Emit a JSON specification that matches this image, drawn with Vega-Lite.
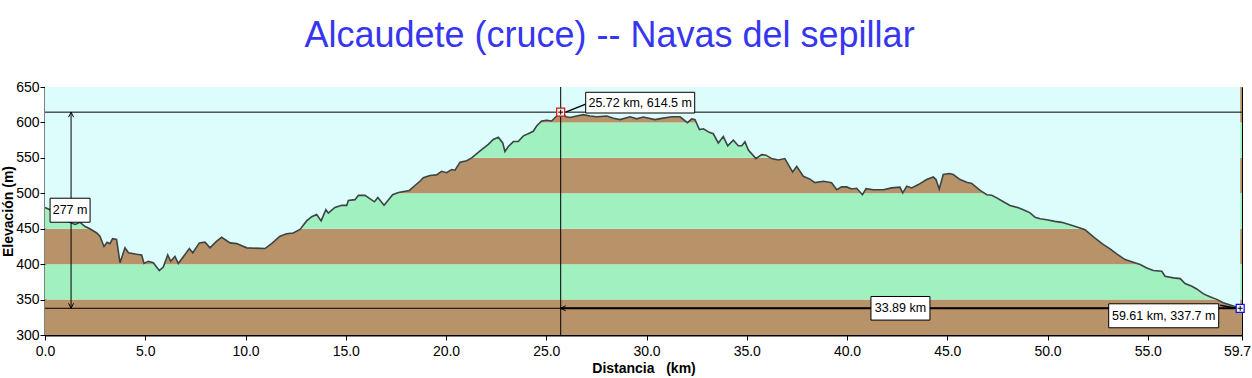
{
  "$schema": "https://vega.github.io/schema/vega-lite/v6.json",
  "width": 1197,
  "height": 248,
  "autosize": {"type": "none"},
  "padding": {"left": 45, "top": 87, "right": 10, "bottom": 43},
  "background": "white",
  "title": {
    "text": "Alcaudete (cruce) -- Navas del sepillar",
    "font": "Liberation Sans",
    "fontSize": 36,
    "fontWeight": "normal",
    "color": "#3636ee",
    "anchor": "middle",
    "frame": "group",
    "dx": -34,
    "baseline": "alphabetic",
    "offset": -3
  },
  "config": {
    "view": {"stroke": "black", "strokeWidth": 1},
    "axis": {
      "labelFont": "Liberation Sans",
      "labelFontSize": 14,
      "labelColor": "black",
      "titleFont": "Liberation Sans",
      "titleFontSize": 14,
      "titleFontWeight": "bold",
      "titleColor": "black",
      "tickColor": "black",
      "tickSize": 5,
      "domainColor": "black",
      "domainWidth": 2,
      "grid": false
    }
  },
  "datasets": {
    "profile": [
      {"km": 0, "elev": 480}, {"km": 0.3, "elev": 476}, {"km": 0.7, "elev": 468}, {"km": 1.0, "elev": 462},
      {"km": 1.33, "elev": 458}, {"km": 1.5, "elev": 456}, {"km": 1.75, "elev": 459}, {"km": 2.0, "elev": 453},
      {"km": 2.24, "elev": 450}, {"km": 2.58, "elev": 444}, {"km": 2.74, "elev": 439.5}, {"km": 2.94, "elev": 425},
      {"km": 3.1, "elev": 431}, {"km": 3.24, "elev": 429}, {"km": 3.37, "elev": 436}, {"km": 3.57, "elev": 435},
      {"km": 3.74, "elev": 402}, {"km": 3.99, "elev": 423}, {"km": 4.16, "elev": 416}, {"km": 4.57, "elev": 414},
      {"km": 4.82, "elev": 413}, {"km": 4.94, "elev": 401}, {"km": 5.15, "elev": 404}, {"km": 5.4, "elev": 402},
      {"km": 5.7, "elev": 391}, {"km": 5.9, "elev": 396}, {"km": 6.12, "elev": 413}, {"km": 6.27, "elev": 404},
      {"km": 6.48, "elev": 411}, {"km": 6.65, "elev": 401}, {"km": 6.86, "elev": 409}, {"km": 7.2, "elev": 422},
      {"km": 7.37, "elev": 416}, {"km": 7.7, "elev": 430}, {"km": 7.98, "elev": 431}, {"km": 8.23, "elev": 423},
      {"km": 8.55, "elev": 432}, {"km": 8.81, "elev": 438}, {"km": 9.23, "elev": 430}, {"km": 9.56, "elev": 429},
      {"km": 10.06, "elev": 423}, {"km": 10.97, "elev": 422}, {"km": 11.3, "elev": 429}, {"km": 11.72, "elev": 439.5},
      {"km": 12.05, "elev": 443}, {"km": 12.38, "elev": 444}, {"km": 12.72, "elev": 449}, {"km": 13.05, "elev": 461},
      {"km": 13.3, "elev": 467}, {"km": 13.55, "elev": 470}, {"km": 13.77, "elev": 461}, {"km": 14.01, "elev": 477},
      {"km": 14.13, "elev": 472}, {"km": 14.46, "elev": 480}, {"km": 14.8, "elev": 483}, {"km": 15.05, "elev": 483},
      {"km": 15.13, "elev": 490}, {"km": 15.46, "elev": 491}, {"km": 15.63, "elev": 497}, {"km": 15.96, "elev": 497},
      {"km": 16.43, "elev": 488}, {"km": 16.6, "elev": 494}, {"km": 16.91, "elev": 483}, {"km": 17.34, "elev": 498},
      {"km": 17.63, "elev": 501}, {"km": 18.17, "elev": 504}, {"km": 18.45, "elev": 511}, {"km": 18.7, "elev": 517},
      {"km": 18.87, "elev": 522}, {"km": 19.2, "elev": 525}, {"km": 19.53, "elev": 526}, {"km": 19.78, "elev": 531},
      {"km": 20.03, "elev": 529}, {"km": 20.28, "elev": 533.5}, {"km": 20.45, "elev": 532.6}, {"km": 20.7, "elev": 544},
      {"km": 21.03, "elev": 546}, {"km": 21.28, "elev": 550}, {"km": 21.7, "elev": 560}, {"km": 22.11, "elev": 569},
      {"km": 22.36, "elev": 576}, {"km": 22.61, "elev": 579}, {"km": 22.83, "elev": 571}, {"km": 22.94, "elev": 559},
      {"km": 23.11, "elev": 566}, {"km": 23.36, "elev": 573}, {"km": 23.6, "elev": 573}, {"km": 23.86, "elev": 581},
      {"km": 24.1, "elev": 584}, {"km": 24.35, "elev": 587.5}, {"km": 24.52, "elev": 595}, {"km": 24.77, "elev": 602},
      {"km": 25.02, "elev": 603}, {"km": 25.27, "elev": 602}, {"km": 25.52, "elev": 609}, {"km": 25.72, "elev": 614.5},
      {"km": 26.0, "elev": 608}, {"km": 26.18, "elev": 607}, {"km": 26.52, "elev": 609}, {"km": 26.85, "elev": 611},
      {"km": 27.18, "elev": 609}, {"km": 27.52, "elev": 608}, {"km": 28.02, "elev": 609}, {"km": 28.35, "elev": 606},
      {"km": 28.68, "elev": 604}, {"km": 29.18, "elev": 608}, {"km": 29.51, "elev": 605}, {"km": 29.84, "elev": 607.6},
      {"km": 30.42, "elev": 604}, {"km": 30.76, "elev": 605.7}, {"km": 31.26, "elev": 608}, {"km": 31.67, "elev": 608},
      {"km": 32.04, "elev": 599.6}, {"km": 32.26, "elev": 605}, {"km": 32.42, "elev": 604}, {"km": 32.64, "elev": 590},
      {"km": 32.84, "elev": 591}, {"km": 33.13, "elev": 586}, {"km": 33.33, "elev": 584}, {"km": 33.58, "elev": 571},
      {"km": 33.83, "elev": 580}, {"km": 34.05, "elev": 567}, {"km": 34.33, "elev": 575}, {"km": 34.58, "elev": 567},
      {"km": 34.75, "elev": 567}, {"km": 34.91, "elev": 572.6}, {"km": 35.08, "elev": 561}, {"km": 35.46, "elev": 549},
      {"km": 35.74, "elev": 554.6}, {"km": 35.96, "elev": 553.8}, {"km": 36.24, "elev": 549}, {"km": 36.57, "elev": 547},
      {"km": 36.9, "elev": 549}, {"km": 37.29, "elev": 530}, {"km": 37.49, "elev": 538}, {"km": 37.82, "elev": 524},
      {"km": 38.15, "elev": 520}, {"km": 38.4, "elev": 515}, {"km": 38.82, "elev": 517}, {"km": 39.23, "elev": 515},
      {"km": 39.49, "elev": 505}, {"km": 39.73, "elev": 509}, {"km": 39.98, "elev": 509}, {"km": 40.23, "elev": 506},
      {"km": 40.48, "elev": 507}, {"km": 40.77, "elev": 498}, {"km": 40.95, "elev": 506.6}, {"km": 41.31, "elev": 505},
      {"km": 41.81, "elev": 505}, {"km": 42.23, "elev": 507.6}, {"km": 42.64, "elev": 508.6}, {"km": 42.78, "elev": 500.6},
      {"km": 42.98, "elev": 510}, {"km": 43.23, "elev": 507.6}, {"km": 43.56, "elev": 512.3}, {"km": 43.97, "elev": 519.4},
      {"km": 44.3, "elev": 523}, {"km": 44.44, "elev": 519.4}, {"km": 44.6, "elev": 506}, {"km": 44.8, "elev": 526.5},
      {"km": 45.1, "elev": 528}, {"km": 45.3, "elev": 526.5}, {"km": 45.64, "elev": 519.4}, {"km": 45.97, "elev": 515.6},
      {"km": 46.22, "elev": 513.8}, {"km": 46.64, "elev": 504}, {"km": 46.97, "elev": 498}, {"km": 47.22, "elev": 497.3},
      {"km": 47.47, "elev": 493.5}, {"km": 47.8, "elev": 488}, {"km": 48.13, "elev": 482.7}, {"km": 48.55, "elev": 479.5},
      {"km": 48.88, "elev": 475.7}, {"km": 49.13, "elev": 472.4}, {"km": 49.38, "elev": 466}, {"km": 49.63, "elev": 464},
      {"km": 49.96, "elev": 462.7}, {"km": 50.37, "elev": 460.4}, {"km": 50.71, "elev": 459}, {"km": 51.12, "elev": 455.7},
      {"km": 51.62, "elev": 451}, {"km": 51.87, "elev": 448.6}, {"km": 52.29, "elev": 438.4}, {"km": 52.79, "elev": 427.6},
      {"km": 53.12, "elev": 421.5}, {"km": 53.45, "elev": 414.4}, {"km": 53.87, "elev": 406.4}, {"km": 54.28, "elev": 402.7},
      {"km": 54.62, "elev": 399.4}, {"km": 54.95, "elev": 394.7}, {"km": 55.28, "elev": 391}, {"km": 55.7, "elev": 390},
      {"km": 55.86, "elev": 383}, {"km": 56.28, "elev": 380.6}, {"km": 56.62, "elev": 379.6}, {"km": 56.86, "elev": 372.6},
      {"km": 57.2, "elev": 368.8}, {"km": 57.44, "elev": 365}, {"km": 57.78, "elev": 358}, {"km": 58.1, "elev": 354},
      {"km": 58.44, "elev": 350.3}, {"km": 58.77, "elev": 345.6}, {"km": 59.27, "elev": 341}, {"km": 59.61, "elev": 337.7}
    ],
    "bands": [
      {"lo": 300, "hi": 350, "shade": "tierra"}, {"lo": 350, "hi": 400, "shade": "verde"},
      {"lo": 400, "hi": 450, "shade": "tierra"}, {"lo": 450, "hi": 500, "shade": "verde"},
      {"lo": 500, "hi": 550, "shade": "tierra"}, {"lo": 550, "hi": 600, "shade": "verde"},
      {"lo": 600, "hi": 650, "shade": "tierra"}
    ]
  },
  "layer": [
    {
      "data": {"name": "bands"},
      "mark": {"type": "rect"},
      "encoding": {
        "x": {"datum": 0, "type": "quantitative", "scale": {"domain": [0, 59.7], "nice": false, "zero": false},
              "axis": {"values": [0, 5, 10, 15, 20, 25, 30, 35, 40, 45, 50, 55, 59.7], "format": ".1f", "title": "Distancia\u00a0\u00a0 (km)", "labelPadding": 4, "titlePadding": 3, "labelOverlap": false, "labelFlush": false, "labelBound": false,
                       "labelOffset": {"condition": {"test": "datum.value > 59", "value": -5}, "value": 0}}},
        "x2": {"datum": 59.7},
        "y": {"field": "lo", "type": "quantitative", "scale": {"domain": [300, 650], "nice": false, "zero": false},
              "axis": {"values": [300, 350, 400, 450, 500, 550, 600, 650], "tickCount": 8, "format": "d", "title": "Elevación (m)", "labelOverlap": false, "labelPadding": 1, "titlePadding": 0}},
        "y2": {"field": "hi"},
        "color": {"field": "shade", "type": "nominal", "scale": {"domain": ["tierra", "verde"], "range": ["#b8936a", "#a0f0c0"]}, "legend": null}
      }
    },
    {
      "data": {"name": "profile"},
      "mark": {"type": "area", "color": "#ddfcfc", "opacity": 1},
      "encoding": {
        "x": {"field": "km", "type": "quantitative", "title": "Distancia\u00a0\u00a0 (km)"},
        "y": {"field": "elev", "type": "quantitative",
              "axis": {"values": [300, 350, 400, 450, 500, 550, 600, 650], "tickCount": 8, "format": "d", "title": "Elevación (m)", "labelOverlap": false, "labelPadding": 1, "titlePadding": 0}},
        "y2": {"datum": 650}
      }
    },
    {
      "data": {"name": "profile"},
      "mark": {"type": "line", "color": "#3d4444", "strokeWidth": 1.6},
      "encoding": {
        "x": {"field": "km", "type": "quantitative", "title": "Distancia\u00a0\u00a0 (km)"},
        "y": {"field": "elev", "type": "quantitative", "title": "Elevación (m)"}
      }
    },
    {
      "data": {"values": [{"elev": 614.5}, {"elev": 337.7}]},
      "mark": {"type": "rule", "color": "black", "strokeWidth": 1},
      "encoding": {
        "y": {"field": "elev", "type": "quantitative", "title": "Elevación (m)"}
      }
    },
    {
      "data": {"values": [{"km": 25.72}]},
      "mark": {"type": "rule", "color": "black", "strokeWidth": 1},
      "encoding": {
        "x": {"field": "km", "type": "quantitative", "title": "Distancia\u00a0\u00a0 (km)"}
      }
    },
    {
      "data": {"values": [{"km": 25.72, "km2": 59.61, "elev": 337.7}]},
      "mark": {"type": "rule", "color": "black", "strokeWidth": 2},
      "encoding": {
        "x": {"field": "km", "type": "quantitative", "title": "Distancia\u00a0\u00a0 (km)"},
        "x2": {"field": "km2"},
        "y": {"field": "elev", "type": "quantitative", "title": "Elevación (m)"}
      }
    },
    {
      "data": {"values": [{"km": 1.3, "elev": 614.5, "elev2": 337.7}]},
      "mark": {"type": "rule", "color": "black", "strokeWidth": 1},
      "encoding": {
        "x": {"field": "km", "type": "quantitative", "title": "Distancia\u00a0\u00a0 (km)"},
        "y": {"field": "elev", "type": "quantitative", "title": "Elevación (m)"},
        "y2": {"field": "elev2"}
      }
    },
    {
      "data": {"values": [{"km": 1.3, "elev": 614.5}]},
      "mark": {"type": "point", "shape": "M-0.5,1L0,0L0.5,1", "size": 100, "filled": false, "color": "black", "strokeWidth": 1, "opacity": 1},
      "encoding": {"x": {"field": "km", "type": "quantitative", "title": "Distancia\u00a0\u00a0 (km)"}, "y": {"field": "elev", "type": "quantitative", "title": "Elevación (m)"}}
    },
    {
      "data": {"values": [{"km": 1.3, "elev": 337.7}]},
      "mark": {"type": "point", "shape": "M-0.5,-1L0,0L0.5,-1", "size": 100, "filled": false, "color": "black", "strokeWidth": 1, "opacity": 1},
      "encoding": {"x": {"field": "km", "type": "quantitative", "title": "Distancia\u00a0\u00a0 (km)"}, "y": {"field": "elev", "type": "quantitative", "title": "Elevación (m)"}}
    },
    {
      "data": {"values": [{"km": 25.72, "elev": 337.7}]},
      "mark": {"type": "point", "shape": "M1,-0.5L0,0L1,0.5", "size": 100, "filled": false, "color": "black", "strokeWidth": 1, "opacity": 1},
      "encoding": {"x": {"field": "km", "type": "quantitative", "title": "Distancia\u00a0\u00a0 (km)"}, "y": {"field": "elev", "type": "quantitative", "title": "Elevación (m)"}}
    },
    {
      "data": {"values": [{"km": 25.72, "elev": 614.5}]},
      "mark": {"type": "rule", "color": "black", "strokeWidth": 1.5, "xOffset": 5, "x2Offset": 25, "y2Offset": -8},
      "encoding": {"x": {"field": "km", "type": "quantitative", "title": "Distancia\u00a0\u00a0 (km)"}, "y": {"field": "elev", "type": "quantitative", "title": "Elevación (m)"}, "x2": {"field": "km"}, "y2": {"field": "elev"}}
    },
    {
      "data": {"values": [{"km": 59.61, "elev": 337.7}]},
      "mark": {"type": "rule", "color": "black", "strokeWidth": 1.5, "xOffset": -20, "yOffset": -3, "x2Offset": -4},
      "encoding": {"x": {"field": "km", "type": "quantitative", "title": "Distancia\u00a0\u00a0 (km)"}, "y": {"field": "elev", "type": "quantitative", "title": "Elevación (m)"}, "x2": {"field": "km"}, "y2": {"field": "elev"}}
    },
    {
      "data": {"values": [{"km": 25.72, "elev": 614.5}]},
      "mark": {"type": "point", "shape": "square", "size": 64, "filled": true, "fill": "#fff4f4", "stroke": "#e01010", "strokeWidth": 1.2, "opacity": 1},
      "encoding": {"x": {"field": "km", "type": "quantitative", "title": "Distancia\u00a0\u00a0 (km)"}, "y": {"field": "elev", "type": "quantitative", "title": "Elevación (m)"}}
    },
    {
      "data": {"values": [{"km": 59.61, "elev": 337.7}]},
      "mark": {"type": "point", "shape": "square", "size": 64, "filled": true, "fill": "#f4f4ff", "stroke": "#1010e0", "strokeWidth": 1.2, "opacity": 1},
      "encoding": {"x": {"field": "km", "type": "quantitative", "title": "Distancia\u00a0\u00a0 (km)"}, "y": {"field": "elev", "type": "quantitative", "title": "Elevación (m)"}}
    },
    {
      "data": {"values": [{"km": 25.72, "elev": 614.5}, {"km": 59.61, "elev": 337.7}]},
      "mark": {"type": "point", "shape": "M-1,0H1M0,-1V1", "size": 25, "filled": false, "color": "black", "strokeWidth": 1, "opacity": 1},
      "encoding": {"x": {"field": "km", "type": "quantitative", "title": "Distancia\u00a0\u00a0 (km)"}, "y": {"field": "elev", "type": "quantitative", "title": "Elevación (m)"}}
    },
    {
      "data": {"values": [{"km": 1.3, "elev": 476.1, "label": "277 m"}]},
      "layer": [
        {"mark": {"type": "point", "shape": "M-1,-0.6H1V0.6H-1Z", "size": 1600, "filled": true, "fill": "white", "stroke": "black", "strokeWidth": 1, "opacity": 1, "xOffset": -1}},
        {"mark": {"type": "text", "font": "Liberation Sans", "fontSize": 12.5, "color": "black", "align": "center", "baseline": "middle", "dx": -1}, "encoding": {"text": {"field": "label"}}}
      ],
      "encoding": {"x": {"field": "km", "type": "quantitative", "title": "Distancia\u00a0\u00a0 (km)"}, "y": {"field": "elev", "type": "quantitative", "title": "Elevación (m)"}}
    },
    {
      "data": {"values": [{"km": 42.665, "elev": 337.7, "label": "33.89 km"}]},
      "layer": [
        {"mark": {"type": "point", "shape": "M-1,-0.4H1V0.4H-1Z", "size": 3481, "filled": true, "fill": "white", "stroke": "black", "strokeWidth": 1, "opacity": 1}},
        {"mark": {"type": "text", "font": "Liberation Sans", "fontSize": 12.5, "color": "black", "align": "center", "baseline": "middle"}, "encoding": {"text": {"field": "label"}}}
      ],
      "encoding": {"x": {"field": "km", "type": "quantitative", "title": "Distancia\u00a0\u00a0 (km)"}, "y": {"field": "elev", "type": "quantitative", "title": "Elevación (m)"}}
    },
    {
      "data": {"values": [{"km": 25.72, "elev": 614.5, "label": "25.72 km, 614.5 m"}]},
      "layer": [
        {"mark": {"type": "point", "shape": "M-1,-0.19H1V0.19H-1Z", "size": 11881, "filled": true, "fill": "white", "stroke": "black", "strokeWidth": 1, "opacity": 1, "xOffset": 79.5, "yOffset": -9.5}},
        {"mark": {"type": "text", "font": "Liberation Sans", "fontSize": 12.5, "color": "black", "align": "center", "baseline": "middle", "dx": 79.5, "dy": -9.5}, "encoding": {"text": {"field": "label"}}}
      ],
      "encoding": {"x": {"field": "km", "type": "quantitative", "title": "Distancia\u00a0\u00a0 (km)"}, "y": {"field": "elev", "type": "quantitative", "title": "Elevación (m)"}}
    },
    {
      "data": {"values": [{"km": 59.61, "elev": 337.7, "label": "59.61 km, 337.7 m"}]},
      "layer": [
        {"mark": {"type": "point", "shape": "M-1,-0.218H1V0.218H-1Z", "size": 12100, "filled": true, "fill": "white", "stroke": "black", "strokeWidth": 1, "opacity": 1, "xOffset": -76.5, "yOffset": 7.5}},
        {"mark": {"type": "text", "font": "Liberation Sans", "fontSize": 12.5, "color": "black", "align": "center", "baseline": "middle", "dx": -76.5, "dy": 7.5}, "encoding": {"text": {"field": "label"}}}
      ],
      "encoding": {"x": {"field": "km", "type": "quantitative", "title": "Distancia\u00a0\u00a0 (km)"}, "y": {"field": "elev", "type": "quantitative", "title": "Elevación (m)"}}
    }
  ]
}
